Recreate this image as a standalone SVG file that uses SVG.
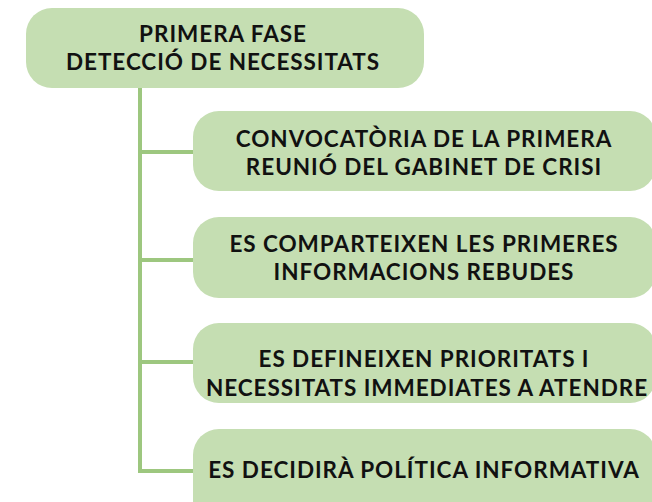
<svg xmlns="http://www.w3.org/2000/svg" width="652" height="502" viewBox="0 0 652 502">
<style>
.box{fill:#c5deb2;}
.conn{stroke:#9dc77f;stroke-width:4;fill:none;}
.t{font-family:Lato,"Liberation Sans",sans-serif;font-weight:bold;font-size:22.5px;letter-spacing:0.95px;fill:#111;text-anchor:middle;}
</style>
<rect width="652" height="502" fill="#ffffff"/>
<g id="connectors">
<path class="conn" d="M140 88 V471"/>
<path class="conn" d="M140 152 H195"/>
<path class="conn" d="M140 260 H195"/>
<path class="conn" d="M140 362 H195"/>
<path class="conn" d="M138 471 H195"/>
</g>
<g id="n0">
<rect class="box" x="26" y="8" width="398" height="80" rx="26"/>
<text class="t" x="223" y="42">PRIMERA FASE</text>
<text class="t" x="223" y="70">DETECCIÓ DE NECESSITATS</text>
</g>
<g id="n1">
<rect class="box" x="193" y="111" width="463" height="80" rx="26"/>
<text class="t" x="424" y="147">CONVOCATÒRIA DE LA PRIMERA</text>
<text class="t" x="424" y="175">REUNIÓ DEL GABINET DE CRISI</text>
</g>
<g id="n2">
<rect class="box" x="193" y="217" width="463" height="81" rx="26"/>
<text class="t" x="424" y="252">ES COMPARTEIXEN LES PRIMERES</text>
<text class="t" x="424" y="280">INFORMACIONS REBUDES</text>
</g>
<g id="n3">
<rect class="box" x="193" y="323" width="463" height="80" rx="26"/>
<text class="t" x="424" y="367">ES DEFINEIXEN PRIORITATS I</text>
<text class="t" x="427" y="396">NECESSITATS IMMEDIATES A ATENDRE</text>
</g>
<g id="n4">
<rect class="box" x="193" y="429" width="463" height="100" rx="26"/>
<text class="t" x="424" y="478">ES DECIDIRÀ POLÍTICA INFORMATIVA</text>
</g>
</svg>
